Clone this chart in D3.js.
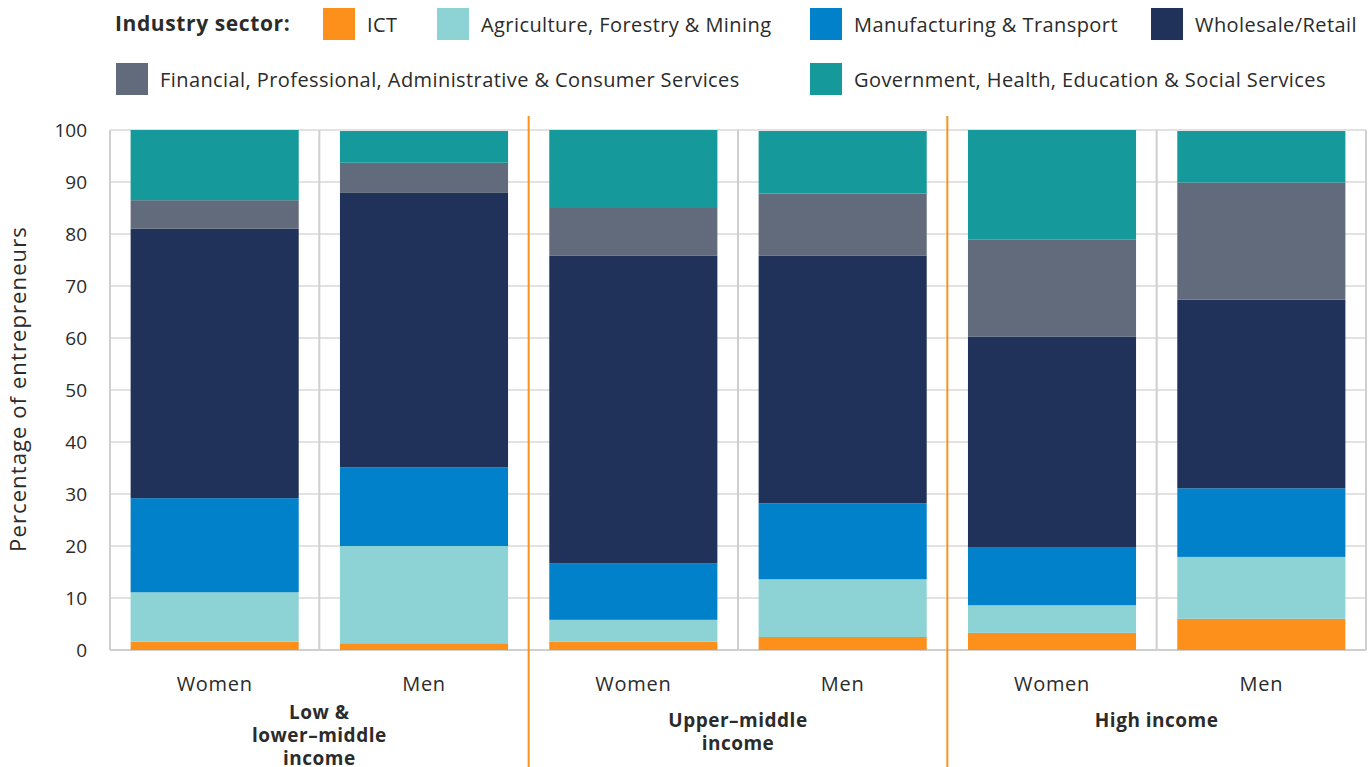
<!DOCTYPE html>
<html>
<head>
<meta charset="utf-8">
<script src="https://cdn.jsdelivr.net/npm/d3@7"></script>
<style>
  body { margin: 0; background: #fff; }
  text { font-family: "Open Sans", "Noto Sans", sans-serif; fill: #2b2b2b; }
</style>
</head>
<body>
<div id="chart"></div>
<script>
// data
const groups = ["Low & lower–middle income", "Upper–middle income", "High income"];
const groupLines = [["Low &", "lower–middle", "income"], ["Upper–middle", "income"], ["High income"]];
const genders = ["Women", "Men"];
const sectors = ["ICT", "Agriculture, Forestry & Mining", "Manufacturing & Transport", "Wholesale/Retail",
                 "Financial, Professional, Administrative & Consumer Services", "Government, Health, Education & Social Services"];
const sectorColors = ["#fd8f1b", "#8dd3d6", "#0281cb", "#21325a", "#616b7b", "#15999a"];

// one value per bar: LW, LM, UW, UM, HW, HM
const ict        = [1.6, 1.3, 1.6, 2.5, 3.3, 6.0];
const agri       = [9.5, 18.7, 4.2, 11.1, 5.3, 11.9];
const manuf      = [18.1, 15.1, 10.9, 14.6, 11.2, 13.2];
const wholesale  = [51.8, 52.8, 59.1, 47.6, 40.5, 36.3];
const financial  = [5.5, 5.8, 9.2, 12.0, 18.6, 22.5];
const government = [13.5, 6.1, 15.0, 12.0, 21.1, 9.9];
const yTicks = [0, 10, 20, 30, 40, 50, 60, 70, 80, 90, 100];

const seriesValues = [ict, agri, manuf, wholesale, financial, government];

// build table
const bars = [];
groups.forEach((g, gi) => genders.forEach((s, si) => {
    const row = {key: g + "|" + s, group: g, gender: s};
    sectors.forEach((sec, k) => row[sec] = seriesValues[k][gi * 2 + si]);
    bars.push(row);
}));

const width = 1369;
const height = 767;
const margin = {top: 130, right: 3, bottom: 117, left: 110};

const svg = d3.select("#chart")
    .append("svg")
    .attr("width", width)
    .attr("height", height);

const x = d3.scaleBand()
    .domain(bars.map(d => d.key))
    .range([margin.left, width - margin.right])
    .paddingInner(0.197)
    .paddingOuter(0.0985);

const y = d3.scaleLinear()
    .domain([0, 100])
    .range([height - margin.bottom, margin.top]);

const color = d3.scaleOrdinal().domain(sectors).range(sectorColors);

// horizontal grid
svg.append("g")
    .selectAll("line")
    .data(yTicks)
    .join("line")
        .attr("x1", margin.left)
        .attr("x2", width - margin.right)
        .attr("y1", d => y(d))
        .attr("y2", d => y(d))
        .attr("stroke", "#d9d9d9")
        .attr("stroke-width", 1.5)

// vertical grid at every bar boundary
const step = x.step();
const bounds = d3.range(bars.length + 1).map(i => margin.left + i * step);
svg.append("g")
    .selectAll("line")
    .data(bounds.filter((b, i) => i % 2 === 1 || i === 0 || i === bars.length))
    .join("line")
        .attr("x1", d => d)
        .attr("x2", d => d)
        .attr("y1", y(100))
        .attr("y2", y(0))
        .attr("stroke", "#cfcfcf")
        .attr("stroke-width", 2)

// bottom axis line
svg.append("line")
    .attr("x1", margin.left).attr("x2", width - margin.right)
    .attr("y1", y(0)).attr("y2", y(0))
    .attr("stroke", "#cfcfcf").attr("stroke-width", 2)

// stacked bars
const stack = d3.stack().keys(sectors)(bars);
svg.append("g")
    .selectAll("g")
    .data(stack)
    .join("g")
        .attr("fill", d => color(d.key))
    .selectAll("rect")
    .data(d => d)
    .join("rect")
        .attr("x", d => x(d.data.key))
        .attr("width", x.bandwidth())
        .attr("y", d => y(d[1]))
        .attr("height", d => y(d[0]) - y(d[1]))

// group separators
svg.append("g")
    .selectAll("line")
    .data([2, 4])
    .join("line")
        .attr("x1", i => bounds[i])
        .attr("x2", i => bounds[i])
        .attr("y1", 116)
        .attr("y2", height)
        .attr("stroke", "#f7931e")
        .attr("stroke-width", 2)

// y axis
svg.append("g")
    .attr("transform", `translate(${margin.left - 20}, 0)`)
    .call(d3.axisLeft(y).tickValues(yTicks).tickSize(0))
    .call(g => g.select(".domain").remove())
    .call(g => g.selectAll("text")
        .attr("font-size", 19)
        .attr("font-family", "DejaVu Sans")
        .attr("fill", "#2b2b2b"))

svg.append("text")
    .attr("transform", `translate(26, 389) rotate(-90)`)
    .attr("text-anchor", "middle")
    .attr("font-size", 22)
    .attr("letter-spacing", 1.1)
    .text("Percentage of entrepreneurs")

// x labels
svg.append("g")
    .attr("transform", `translate(0, ${y(0)})`)
    .call(d3.axisBottom(x).tickSize(0).tickFormat(k => k.split("|")[1]))
    .call(g => g.select(".domain").remove())
    .call(g => g.selectAll("text")
        .attr("dy", 0)
        .attr("y", 41)
        .attr("font-size", 20)
        .attr("letter-spacing", 0.7)
        .attr("font-family", "Open Sans")
        .attr("fill", "#2b2b2b"))

// group labels
svg.append("g")
    .selectAll("text")
    .data(groups)
    .join("text")
        .attr("x", (g, i) => (bounds[i * 2] + bounds[i * 2 + 2]) / 2)
        .attr("y", (g, i) => groupLines[i].length === 3 ? 719 : 727)
        .attr("text-anchor", "middle")
        .attr("font-size", 19)
        .attr("letter-spacing", 0.5)
        .attr("font-weight", "bold")
    .selectAll("tspan")
    .data((g, i) => groupLines[i])
    .join("tspan")
        .attr("x", function() { return this.parentNode.getAttribute("x"); })
        .attr("dy", (d, j) => j === 0 ? 0 : 23)
        .text(d => d)

// legend
const legendPos = [[323, 8], [437, 8], [810, 8], [1151, 8], [116, 63], [810, 63]];
svg.append("text")
    .attr("x", 115).attr("y", 31)
    .attr("font-size", 21)
    .attr("letter-spacing", 0.6)
    .attr("font-weight", "bold")
    .text("Industry sector:")

const legend = svg.append("g")
    .selectAll("g")
    .data(sectors)
    .join("g")
        .attr("transform", (d, i) => `translate(${legendPos[i][0]}, ${legendPos[i][1]})`)

legend.append("rect")
    .attr("width", 32)
    .attr("height", 32)
    .attr("fill", d => color(d))

legend.append("text")
    .attr("x", 44)
    .attr("y", 24)
    .attr("font-size", 20)
    .attr("letter-spacing", 0.42)
    .text(d => d)
</script>
</body>
</html>
